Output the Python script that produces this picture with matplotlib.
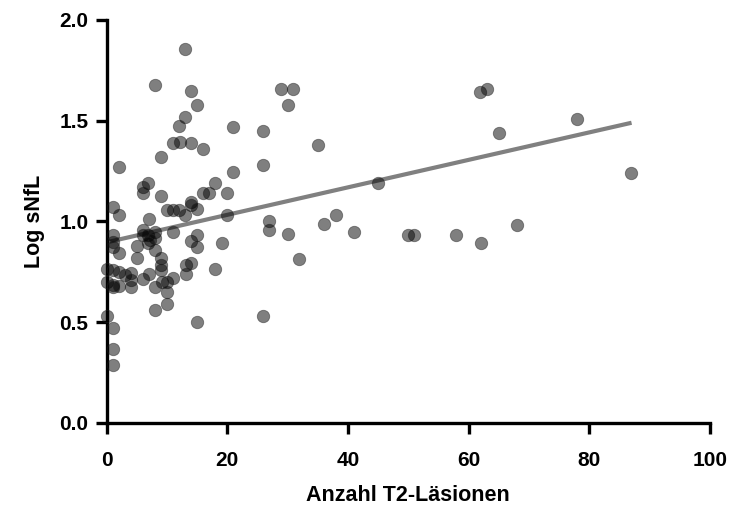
import matplotlib
matplotlib.use("Agg")
import matplotlib.pyplot as plt

# Data (x = Anzahl T2-Läsionen, y = Log sNfL)
lesions = [13.0, 8.0, 14.0, 15.0, 13.0, 12.0, 11.1, 12.1, 14.0, 16.0, 9.0, 21.0,
           25.9, 28.9, 30.9, 30.1, 25.9, 35.0, 45.0, 26.9, 26.9, 30.1, 36.0, 38.0,
           41.0, 31.9, 50.0, 51.0, 57.9, 62.1, 68.0, 61.9, 63.1, 65.0, 78.0, 86.9,
           26.0,
           2.1, 21.0, 6.9, 6.0, 6.0, 18.0, 9.0, 16.0, 17.0, 20.0, 14.0, 14.0, 15.0,
           10.0, 11.0, 12.0, 13.0, 1.1, 2.1, 20.0, 7.0,
           1.1, 1.1, 1.1, 2.1, 6.0, 6.9, 8.0, 8.0, 6.0, 7.2, 11.0, 5.1, 6.9, 8.0,
           5.1, 14.0, 15.0, 15.0, 19.1, 9.0, 9.0, 9.0, 13.2, 14.0, 18.0,
           0.1, 1.1, 2.1, 3.1, 4.0, 4.0, 4.0, 6.0, 7.0, 8.0, 9.2, 10.0, 10.0, 11.0,
           13.2, 0.1, 1.1, 1.1, 2.1, 10.0, 8.0, 15.0, 0.1, 1.1, 1.1, 1.1]
log_snfl = [1.856, 1.677, 1.648, 1.578, 1.519, 1.474, 1.388, 1.396, 1.39, 1.36, 1.32, 1.469,
            1.449, 1.658, 1.658, 1.578, 1.28, 1.38, 1.19, 1.0, 0.958, 0.938, 0.99, 1.03,
            0.948, 0.814, 0.933, 0.933, 0.933, 0.893, 0.983, 1.643, 1.658, 1.44, 1.509, 1.24,
            0.53,
            1.27, 1.246, 1.19, 1.17, 1.14, 1.19, 1.127, 1.141, 1.141, 1.141, 1.097, 1.082, 1.062,
            1.057, 1.057, 1.057, 1.032, 1.072, 1.032, 1.032, 1.012,
            0.933, 0.898, 0.873, 0.844, 0.958, 0.933, 0.948, 0.918, 0.933, 0.908, 0.948, 0.878, 0.893, 0.859,
            0.819, 0.903, 0.873, 0.933, 0.893, 0.819, 0.784, 0.759, 0.784, 0.794, 0.764,
            0.764, 0.759, 0.749, 0.734, 0.744, 0.71, 0.675, 0.715, 0.739, 0.675, 0.70, 0.70, 0.65, 0.72,
            0.739, 0.70, 0.685, 0.675, 0.68, 0.59, 0.561, 0.501, 0.531, 0.471, 0.367, 0.288]

# Regression line endpoints as drawn in the reference
fit_x = [0.5, 87]
fit_y = [0.90, 1.49]

x_ticks = [0, 20, 40, 60, 80, 100]
y_ticks = [0.0, 0.5, 1.0, 1.5, 2.0]
x_label = "Anzahl T2-Läsionen"
y_label = "Log sNfL"

plt.rcParams['font.family'] = ['Liberation Sans', 'DejaVu Sans']

fig = plt.figure(figsize=(7.34, 5.18), dpi=100)
ax = fig.add_axes([0.1451, 0.1834, 0.8222, 0.778])

ax.plot(fit_x, fit_y, color='#808080', linewidth=3.0, solid_capstyle='butt', zorder=2)
ax.scatter(lesions, log_snfl, s=80, facecolor='black', edgecolor='#202020',
           linewidths=0.6, alpha=0.5, zorder=3, clip_on=False)

ax.set_xlim(0, 100)
ax.set_ylim(0, 2.0)
ax.set_xticks(x_ticks)
ax.set_yticks(y_ticks)
ax.set_xticklabels([f"{v}" for v in x_ticks])
ax.set_yticklabels([f"{v:.1f}" for v in y_ticks])

for side in ['top', 'right']:
    ax.spines[side].set_visible(False)
for side in ['left', 'bottom']:
    ax.spines[side].set_linewidth(2.4)
    ax.spines[side].set_color('black')

ax.tick_params(axis='both', direction='out', length=8, width=2.4, color='black',
               labelsize=15)
ax.tick_params(axis='x', pad=12)
ax.tick_params(axis='y', pad=5)
for lbl in ax.get_xticklabels() + ax.get_yticklabels():
    lbl.set_fontweight('bold')

ax.set_xlabel(x_label, fontsize=15.5, fontweight='bold', labelpad=11)
ax.set_ylabel(y_label, fontsize=15.5, fontweight='bold', labelpad=10)

fig.savefig("out.png", dpi=100)
